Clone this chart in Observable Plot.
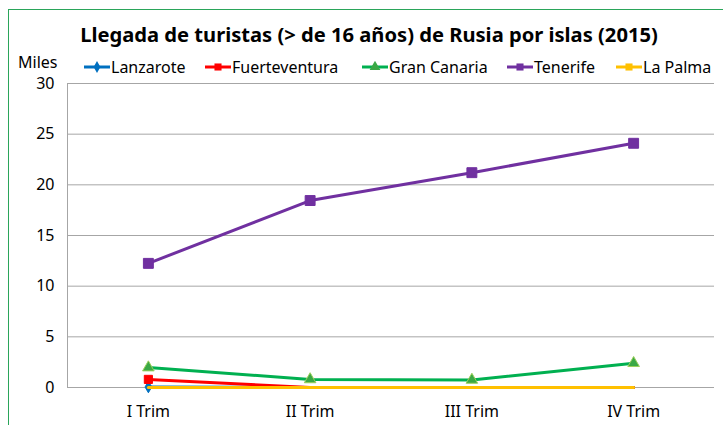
<!DOCTYPE html>
<html>
<head>
<meta charset="utf-8">
<script src="https://cdn.jsdelivr.net/npm/d3@7"></script>
<script src="https://cdn.jsdelivr.net/npm/@observablehq/plot@0.6"></script>
<style>
  html, body { margin: 0; padding: 0; background: #fff; }
  #wrap { position: relative; width: 723px; height: 425px; overflow: hidden; font-family: "Noto Sans", sans-serif; }
  #border { position: absolute; left: 8px; top: 9px; width: 800px; height: 500px; border: 1.5px solid #2aa55a; box-sizing: border-box; }
  #title { position: absolute; top: 20px; left: 0; width: 738px; text-align: center; font-weight: bold; white-space: nowrap; color: #000; }
  .lab { position: absolute; font-size: 15px; color: #000; white-space: nowrap; line-height: 1; }
  .key { position: absolute; }
  #chart { position: absolute; left: 0; top: 0; }
</style>
</head>
<body>
<div id="wrap">
  <div id="border"></div>
  <div id="chart"></div>
  <div id="title">Llegada de turistas (&gt; de 16 años) de Rusia por islas (2015)</div>
  <div id="legend"></div>
</div>
<script>
const quarters = ["I Trim", "II Trim", "III Trim", "IV Trim"];
const seriesNames = ["Lanzarote", "Fuerteventura", "Gran Canaria", "Tenerife", "La Palma"];
const lanzarote = [0.05, 0, 0, 0];
const fuerteventura = [0.8, 0, 0, 0];
const granCanaria = [1.97, 0.8, 0.75, 2.4];
const tenerife = [12.25, 18.45, 21.2, 24.1];
const laPalma = [0, 0, 0, 0];
const yTicks = [0, 5, 10, 15, 20, 25, 30];
const colors = ["#0070C0", "#FF0000", "#00B050", "#7030A0", "#FFC000"];
const symbols = ["diamond", "square", "triangle", "square", "square"];
const legendX = [84, 205, 362, 507, 616];

const values = [lanzarote, fuerteventura, granCanaria, tenerife, laPalma];
const rows = [];
values.forEach((arr, s) => arr.forEach((v, i) => rows.push({series: seriesNames[s], s, q: i + 0.5, v})));

const marks = [
  Plot.gridY(yTicks, {stroke: "#a6a6a6", strokeOpacity: 1, strokeWidth: 1}),
  Plot.ruleX([0], {stroke: "#a6a6a6", strokeWidth: 1}),
];
seriesNames.forEach((name, s) => {
  const data = rows.filter(d => d.s === s);
  marks.push(Plot.line(data, {x: "q", y: "v", stroke: colors[s], strokeWidth: 3}));
  marks.push(Plot.dot(data.filter(d => d.v > 0), {
    x: "q", y: "v", symbol: () => symbols[s],
    fill: s === 2 ? "#3aa845" : colors[s],
    stroke: s === 2 ? "#9bcf5a" : colors[s],
    strokeWidth: 1,
    r: s === 2 ? 4.3 : (s === 0 ? 3.5 : (s === 1 ? 4.6 : 5.6))
  }));
});

const chart = Plot.plot({
  width: 723,
  height: 425,
  marginLeft: 67,
  marginRight: 9,
  marginTop: 83,
  marginBottom: 38,
  style: {fontFamily: "'Noto Sans', sans-serif", fontSize: "16px", color: "#000", background: "transparent"},
  x: {domain: [0, 4], ticks: [0.5, 1.5, 2.5, 3.5], tickFormat: d => quarters[Math.round(d - 0.5)], tickSize: 0, tickPadding: 18, label: null},
  y: {domain: [0, 30], ticks: yTicks, tickSize: 0, tickPadding: 13, label: null},
  symbol: {type: "identity"},
  marks
});
document.getElementById("chart").appendChild(chart);

// Title fit to width
const title = document.getElementById("title");
const ctx = document.createElement("canvas").getContext("2d");
let fs = 20;
ctx.font = `bold ${fs}px 'Noto Sans'`;
const w = ctx.measureText(title.textContent).width;
fs = fs * 578 / w;
title.style.fontSize = fs + "px";

// Legend
const legend = document.getElementById("legend");
const miles = document.createElement("div");
miles.className = "lab";
miles.style.left = "18px"; miles.style.top = "54px";
miles.style.fontSize = "16px";
miles.textContent = "Miles";
legend.appendChild(miles);
seriesNames.forEach((name, s) => {
  const svgNS = "http://www.w3.org/2000/svg";
  const svg = document.createElementNS(svgNS, "svg");
  svg.setAttribute("width", 26); svg.setAttribute("height", 12);
  svg.setAttribute("class", "key");
  svg.style.left = legendX[s] + "px"; svg.style.top = "61px";
  const ln = document.createElementNS(svgNS, "line");
  ln.setAttribute("x1", 0); ln.setAttribute("x2", 26); ln.setAttribute("y1", 6); ln.setAttribute("y2", 6);
  ln.setAttribute("stroke", colors[s]); ln.setAttribute("stroke-width", 3);
  svg.appendChild(ln);
  const p = document.createElementNS(svgNS, "path");
  const sym = {diamond: d3.symbolDiamond, square: d3.symbolSquare, triangle: d3.symbolTriangle}[symbols[s]];
  p.setAttribute("d", d3.symbol(sym, s === 0 ? 40 : 50)());
  p.setAttribute("transform", "translate(13,6)");
  p.setAttribute("fill", s === 2 ? "#3aa845" : colors[s]);
  svg.appendChild(p);
  legend.appendChild(svg);
  const t = document.createElement("div");
  t.className = "lab";
  t.style.left = (legendX[s] + 27) + "px"; t.style.top = "59px";
  t.style.fontSize = "16px";
  t.textContent = name;
  legend.appendChild(t);
});
</script>
</body>
</html>
